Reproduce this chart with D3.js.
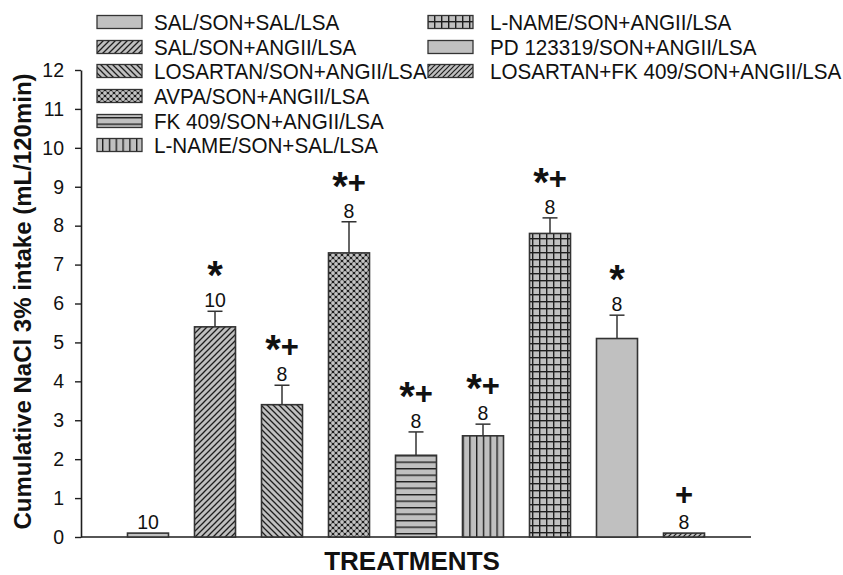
<!DOCTYPE html>
<html><head><meta charset="utf-8">
<script src="https://cdn.jsdelivr.net/npm/d3@7"></script>
<style>
html,body{margin:0;padding:0;background:#fff;}
svg{display:block;font-family:"Liberation Sans",Arial,sans-serif;}
</style></head>
<body>
<svg id="chart" width="843" height="575"></svg>
<script>
const categories = ["SAL/SON+SAL/LSA","SAL/SON+ANGII/LSA","LOSARTAN/SON+ANGII/LSA","AVPA/SON+ANGII/LSA","FK 409/SON+ANGII/LSA","L-NAME/SON+SAL/LSA","L-NAME/SON+ANGII/LSA","PD 123319/SON+ANGII/LSA","LOSARTAN+FK 409/SON+ANGII/LSA"];
const values = [0.1, 5.4, 3.4, 7.3, 2.1, 2.6, 7.8, 5.1, 0.1];
const errors = [0, 0.4, 0.5, 0.8, 0.6, 0.3, 0.4, 0.6, 0];
const nLabels = ["10","10","8","8","8","8","8","8","8"];
const sigLabels = ["","*","*+","*+","*+","*+","*+","*","+"];
const patterns = ["solid","diagUp","diagDown","dots","horiz","vert","grid","solid","diagUp2"];
const yTicks = [0,1,2,3,4,5,6,7,8,9,10,11,12];
const yTitle = "Cumulative NaCl 3% intake (mL/120min)";
const xTitle = "TREATMENTS";

const svg = d3.select("#chart");
const gray = "#c0c0c0", ink = "#1e1e1e";
const defs = svg.append("defs");
function pat(id, w, h, draw){
  const p = defs.append("pattern").attr("id", id).attr("patternUnits","userSpaceOnUse").attr("width", w).attr("height", h);
  p.append("rect").attr("width", w).attr("height", h).attr("fill", gray);
  draw(p);
}
pat("diagUp", 6, 6, p => p.append("path").attr("d","M-1,1 l2,-2 M0,6 l6,-6 M5,7 l2,-2").attr("stroke", ink).attr("stroke-width",1.3));
pat("diagUp2", 5, 5, p => p.append("path").attr("d","M-1,1 l2,-2 M0,5 l5,-5 M4,6 l2,-2").attr("stroke", ink).attr("stroke-width",1.2));
pat("diagDown", 6, 6, p => p.append("path").attr("d","M-1,5 l2,2 M0,0 l6,6 M5,-1 l2,2").attr("stroke", ink).attr("stroke-width",1.3));
defs.append("pattern").attr("id","dots").attr("patternUnits","userSpaceOnUse").attr("width",6).attr("height",6)
  .call(p => {
    p.append("rect").attr("width",6).attr("height",6).attr("fill","#1e1e1e");
    [[0,0],[6,0],[0,6],[6,6],[3,3]].forEach(c => p.append("circle").attr("cx",c[0]).attr("cy",c[1]).attr("r",1.9).attr("fill","#c4c4c4"));
  });
pat("horiz", 7, 6.5, p => p.append("line").attr("x1",0).attr("x2",7).attr("y1",0.7).attr("y2",0.7).attr("stroke", ink).attr("stroke-width",1.4));
pat("vert", 6.8, 7, p => p.append("line").attr("y1",0).attr("y2",7).attr("x1",0.7).attr("x2",0.7).attr("stroke", ink).attr("stroke-width",1.4));
pat("grid", 7, 7, p => {
  p.append("line").attr("x1",0).attr("x2",7).attr("y1",0.7).attr("y2",0.7).attr("stroke", ink).attr("stroke-width",1.4);
  p.append("line").attr("y1",0).attr("y2",7).attr("x1",0.7).attr("x2",0.7).attr("stroke", ink).attr("stroke-width",1.4);
});
const fillOf = k => k === "solid" ? gray : `url(#${k})`;

const x0 = 81, x1 = 751, yBase = 537, yTop = 70;
const x = d3.scalePoint().domain(categories).range([x0, x1]).padding(1);
const y = d3.scaleLinear().domain([0, 12]).range([yBase, yTop]);
const bw = 41;

// y axis
const ya = svg.append("g").attr("transform", `translate(${x0},0)`)
  .call(d3.axisLeft(y).tickValues(yTicks).tickSize(6).tickSizeOuter(0).tickPadding(11));
ya.select(".domain").attr("stroke", ink).attr("stroke-width", 1.6);
ya.selectAll(".tick line").attr("stroke", ink).attr("stroke-width", 1.4);
ya.selectAll(".tick text").attr("font-family", "Liberation Sans, Arial, sans-serif").attr("font-size", 19.5).attr("fill", "#111");

// x axis line
svg.append("line").attr("x1", x0).attr("x2", x1).attr("y1", yBase).attr("y2", yBase).attr("stroke", ink).attr("stroke-width", 1.6);

// bars
const g = svg.append("g");
categories.forEach((c, i) => {
  const cx = x(c);
  g.append("rect").attr("x", cx - bw/2).attr("y", y(values[i])).attr("width", bw).attr("height", y(0) - y(values[i]))
    .attr("fill", fillOf(patterns[i])).attr("stroke", "#333").attr("stroke-width", 1.6);
  const top = values[i] + errors[i];
  if (errors[i] > 0) {
    g.append("line").attr("x1", cx).attr("x2", cx).attr("y1", y(values[i])).attr("y2", y(top)).attr("stroke", "#333").attr("stroke-width", 1.5);
    g.append("line").attr("x1", cx - 7.5).attr("x2", cx + 7.5).attr("y1", y(top)).attr("y2", y(top)).attr("stroke", "#333").attr("stroke-width", 1.5);
  }
  const nb = y(top) - 4;
  g.append("text").attr("x", cx).attr("y", nb).attr("text-anchor", "middle").attr("font-size", 19.5).attr("fill", "#111").text(nLabels[i]);
  const sc = nb - 35;
  const s = sigLabels[i];
  if (s) {
    const t = g.append("text").attr("x", cx).attr("y", sc).attr("text-anchor", "middle").attr("fill", "#111");
    for (const ch of s) {
      if (ch === "*") t.append("tspan").attr("font-size", 40).attr("font-weight", "bold").attr("dy", "0.42em").text("*");
      else t.append("tspan").attr("font-size", 31).attr("font-weight", "bold").attr("dy", s.length > 1 ? "-0.2em" : "0.36em").text("+");
    }
  }
});

// legend
const legend = svg.append("g");
const rowY = [22, 47, 71, 96, 121, 145];
categories.forEach((c, i) => {
  const col = i < 6 ? 0 : 1;
  const r = i < 6 ? i : i - 6;
  const sx = col === 0 ? 97 : 428;
  const tx = col === 0 ? 154 : 490;
  const cy = rowY[r];
  legend.append("rect").attr("x", sx).attr("y", cy - 6.5).attr("width", 45).attr("height", 13)
    .attr("fill", fillOf(patterns[i])).attr("stroke", "#333").attr("stroke-width", 1.3);
  legend.append("text").attr("x", tx).attr("y", cy + 8).attr("font-size", 21.5)
    .attr("transform", `translate(${tx},0) scale(0.96,1) translate(${-tx},0)`).attr("fill", "#111").text(c);
});

// titles
svg.append("text").attr("transform", `translate(31,${(yBase + yTop)/2 - 2}) rotate(-90)`).attr("text-anchor", "middle")
  .attr("font-size", 24).attr("font-weight", "bold").attr("fill", "#111").text(yTitle);
svg.append("text").attr("x", 412).attr("y", 570).attr("text-anchor", "middle").attr("font-size", 26).attr("font-weight", "bold").attr("fill", "#111").text(xTitle);
</script>
</body></html>
